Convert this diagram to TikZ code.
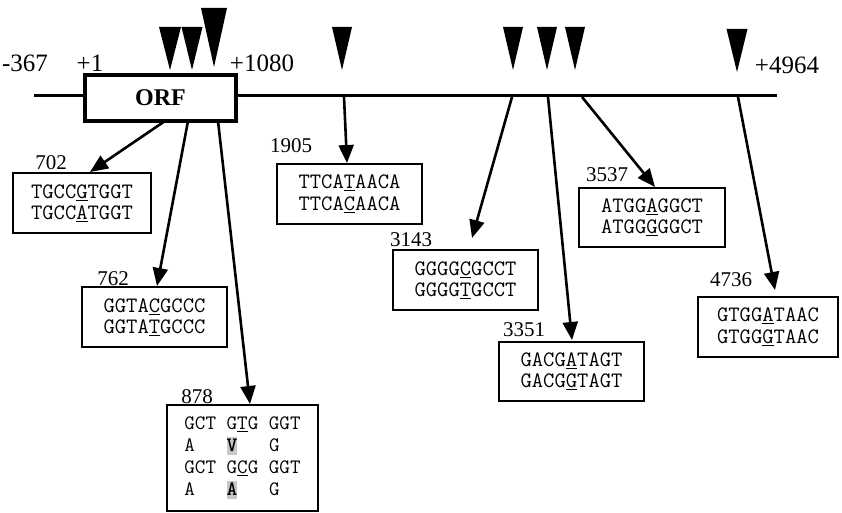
\documentclass[tikz,border=0pt]{standalone}
\usepackage{fontspec}
\setmainfont{Liberation Serif}
\usetikzlibrary{arrows.meta}
\newcommand\seqfont{\ttfamily\fontsize{22}{21.5}\selectfont}
\newcommand\smseqfont{\ttfamily\fontsize{20.5}{22}\selectfont}
\newcommand\lblfont{\fontsize{21}{21}\selectfont}
\newcommand\bigendfont{\fontsize{25}{25}\selectfont}
\newcommand\hlbox[1]{{\setlength{\fboxsep}{0pt}\colorbox{black!22}{\rule[-4pt]{0pt}{18pt}\textbf{#1}}}}
\begin{document}
\begin{tikzpicture}[x=1pt,y=-1pt,
  seqbox/.style={draw, line width=1.8pt, font=\seqfont, align=center, inner sep=0pt},
  lbl/.style={font=\lblfont, inner sep=0pt},
  endlbl/.style={font=\bigendfont, inner sep=0pt},
  conn/.style={line width=2.6pt, -{Triangle[length=18pt,width=15pt]}}]
\useasboundingbox (0,0) rectangle (842,513);
% main line
\coordinate (L) at (34,96);
\coordinate (R) at (777,96);
\draw[line width=3pt] (L) -- (R);
\node[draw, line width=3.2pt, fill=white, minimum width=151pt, minimum height=46pt,
      font=\bfseries\fontsize{24}{24}\selectfont] (orf) at (160.5,98) {ORF};
% end labels
\node[endlbl] (m367) at (25,63) {-367};
\node[endlbl] (p1) at (90,63) {+1};
\node[endlbl] (p1080) at (262,63) {+1080};
\node[endlbl] (p4964) at (787,65) {+4964};
% triangles
\foreach \x/\w/\t/\b in {170/22/27/70, 192/21/27/70, 214/26/8/67, 342/20/27/70,
  513/20/27/70, 547/20/27/70, 575/20/27/70, 737/21/29/72}
  \fill (\x-\w/2,\t) -- (\x+\w/2,\t) -- (\x,\b) -- cycle;
% boxes
\node[seqbox, minimum width=138pt, minimum height=60pt] (b702) at (82,203)
  {TGCC\underline{G}TGGT\\TGCC\underline{A}TGGT};
\node[seqbox, minimum width=145pt, minimum height=60pt] (b762) at (154.5,317)
  {GGTA\underline{C}GCCC\\GGTA\underline{T}GCCC};
\node[seqbox, minimum width=151pt, minimum height=106pt, align=left, font=\smseqfont] (b878) at (242.5,458)
  {GCT G\underline{T}G GGT\\A\ \ \ \hlbox{V}\ \ \ G\\GCT G\underline{C}G GGT\\A\ \ \ \hlbox{A}\ \ \ G};
\node[seqbox, minimum width=145pt, minimum height=60pt] (b1905) at (349.5,194)
  {TTCA\underline{T}AACA\\TTCA\underline{C}AACA};
\node[seqbox, minimum width=145pt, minimum height=60pt] (b3143) at (465.5,280)
  {GGGG\underline{C}GCCT\\GGGG\underline{T}GCCT};
\node[seqbox, minimum width=145pt, minimum height=59pt] (b3351) at (571.5,371.5)
  {GACG\underline{A}TAGT\\GACG\underline{G}TAGT};
\node[seqbox, minimum width=146pt, minimum height=59pt] (b3537) at (652,217.5)
  {ATGG\underline{A}GGCT\\ATGG\underline{G}GGCT};
\node[seqbox, minimum width=140pt, minimum height=60pt] (b4736) at (768,327)
  {GTGG\underline{A}TAAC\\GTGG\underline{G}TAAC};
% position labels
\node[lbl] (l702) at (51,163) {702};
\node[lbl] (l762) at (113,279) {762};
\node[lbl] (l878) at (197,397) {878};
\node[lbl] (l1905) at (291,146) {1905};
\node[lbl] (l3143) at (411,240) {3143};
\node[lbl] (l3351) at (524,330) {3351};
\node[lbl] (l3537) at (607,175) {3537};
\node[lbl] (l4736) at (731,280) {4736};
% connector coordinates
\coordinate (o702) at (165,121);
\coordinate (o762) at (188,121);
\coordinate (o878) at (218,121);
\coordinate (s1905) at (344,97);
\coordinate (s3143) at (512,97);
\coordinate (s3351) at (548,97);
\coordinate (s3537) at (582,97);
\coordinate (s4736) at (738,97);
\coordinate (t702) at (90,172);
\coordinate (t762) at (157,286);
\coordinate (t878) at (250,404);
\coordinate (t1905) at (347,163);
\coordinate (t3143) at (472,238);
\coordinate (t3351) at (572,340);
\coordinate (t3537) at (655,187);
\coordinate (t4736) at (775,290);
\draw[conn] (o702) -- (t702);
\draw[conn] (o762) -- (t762);
\draw[conn] (o878) -- (t878);
\draw[conn] (s1905) -- (t1905);
\draw[conn] (s3143) -- (t3143);
\draw[conn] (s3351) -- (t3351);
\draw[conn] (s3537) -- (t3537);
\draw[conn] (s4736) -- (t4736);
\end{tikzpicture}
\end{document}
